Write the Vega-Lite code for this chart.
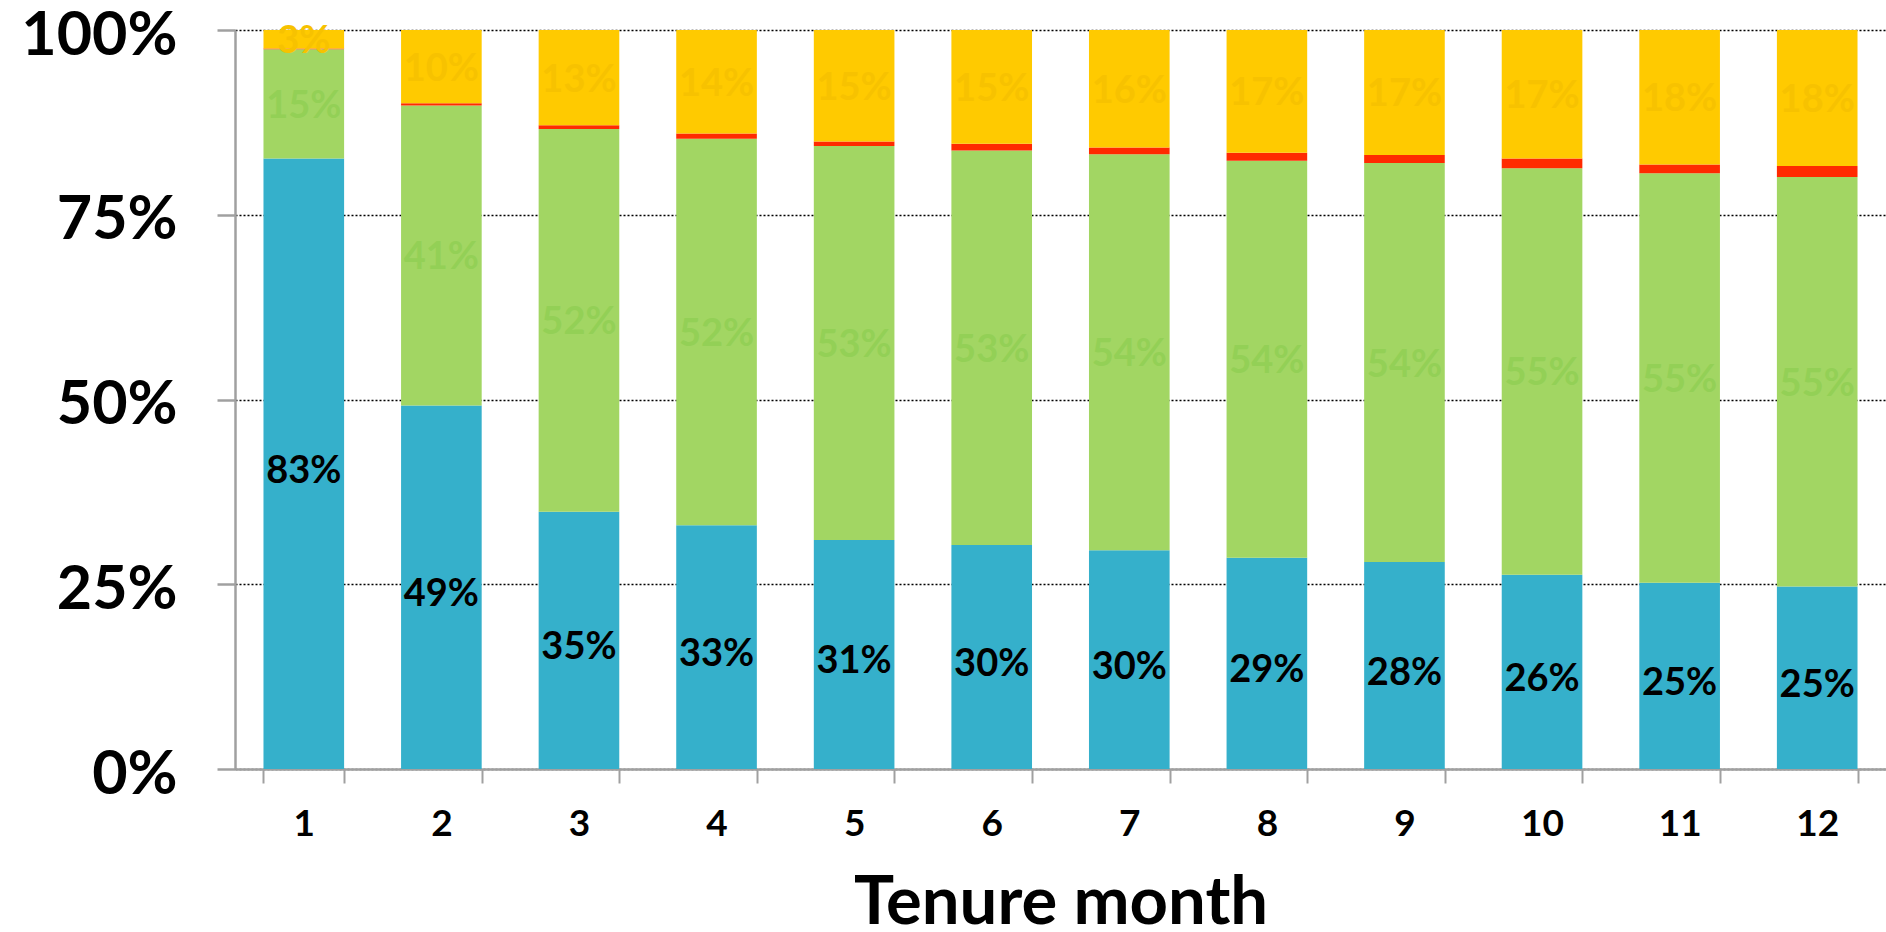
{
  "$schema": "https://vega.github.io/schema/vega-lite/v6.json",
  "autosize": "none",
  "width": 1651,
  "height": 739,
  "padding": {"left": 235, "top": 30, "right": 0, "bottom": 163},
  "background": "white",
  "config": {
    "view": {"stroke": null},
    "font": "Lato"
  },
  "data": {
    "values": [
      {"month": 1, "segment": "A", "order": 1, "share": 0.826},
      {"month": 1, "segment": "B", "order": 2, "share": 0.148},
      {"month": 1, "segment": "C", "order": 3, "share": 0.001},
      {"month": 1, "segment": "D", "order": 4, "share": 0.025},
      {"month": 2, "segment": "A", "order": 1, "share": 0.492},
      {"month": 2, "segment": "B", "order": 2, "share": 0.406},
      {"month": 2, "segment": "C", "order": 3, "share": 0.003},
      {"month": 2, "segment": "D", "order": 4, "share": 0.099},
      {"month": 3, "segment": "A", "order": 1, "share": 0.348},
      {"month": 3, "segment": "B", "order": 2, "share": 0.518},
      {"month": 3, "segment": "C", "order": 3, "share": 0.005},
      {"month": 3, "segment": "D", "order": 4, "share": 0.129},
      {"month": 4, "segment": "A", "order": 1, "share": 0.330},
      {"month": 4, "segment": "B", "order": 2, "share": 0.523},
      {"month": 4, "segment": "C", "order": 3, "share": 0.007},
      {"month": 4, "segment": "D", "order": 4, "share": 0.140},
      {"month": 5, "segment": "A", "order": 1, "share": 0.310},
      {"month": 5, "segment": "B", "order": 2, "share": 0.533},
      {"month": 5, "segment": "C", "order": 3, "share": 0.006},
      {"month": 5, "segment": "D", "order": 4, "share": 0.151},
      {"month": 6, "segment": "A", "order": 1, "share": 0.303},
      {"month": 6, "segment": "B", "order": 2, "share": 0.534},
      {"month": 6, "segment": "C", "order": 3, "share": 0.009},
      {"month": 6, "segment": "D", "order": 4, "share": 0.154},
      {"month": 7, "segment": "A", "order": 1, "share": 0.296},
      {"month": 7, "segment": "B", "order": 2, "share": 0.536},
      {"month": 7, "segment": "C", "order": 3, "share": 0.009},
      {"month": 7, "segment": "D", "order": 4, "share": 0.159},
      {"month": 8, "segment": "A", "order": 1, "share": 0.286},
      {"month": 8, "segment": "B", "order": 2, "share": 0.537},
      {"month": 8, "segment": "C", "order": 3, "share": 0.011},
      {"month": 8, "segment": "D", "order": 4, "share": 0.166},
      {"month": 9, "segment": "A", "order": 1, "share": 0.280},
      {"month": 9, "segment": "B", "order": 2, "share": 0.540},
      {"month": 9, "segment": "C", "order": 3, "share": 0.011},
      {"month": 9, "segment": "D", "order": 4, "share": 0.169},
      {"month": 10, "segment": "A", "order": 1, "share": 0.263},
      {"month": 10, "segment": "B", "order": 2, "share": 0.550},
      {"month": 10, "segment": "C", "order": 3, "share": 0.013},
      {"month": 10, "segment": "D", "order": 4, "share": 0.174},
      {"month": 11, "segment": "A", "order": 1, "share": 0.252},
      {"month": 11, "segment": "B", "order": 2, "share": 0.554},
      {"month": 11, "segment": "C", "order": 3, "share": 0.012},
      {"month": 11, "segment": "D", "order": 4, "share": 0.182},
      {"month": 12, "segment": "A", "order": 1, "share": 0.247},
      {"month": 12, "segment": "B", "order": 2, "share": 0.554},
      {"month": 12, "segment": "C", "order": 3, "share": 0.015},
      {"month": 12, "segment": "D", "order": 4, "share": 0.184}
    ]
  },
  "transform": [
    {"stack": "share", "groupby": ["month"], "sort": [{"field": "order", "order": "ascending"}], "as": ["y0", "y1"]},
    {"calculate": "(datum.y0 + datum.y1) / 2", "as": "ymid"}
  ],
  "encoding": {
    "x": {
      "field": "month",
      "type": "ordinal",
      "scale": {"paddingInner": 0.414, "paddingOuter": 0.207},
      "axis": {
        "title": "Tenure month",
        "titleFont": "Lato",
        "titleFontSize": 67,
        "titleFontWeight": "bold",
        "titleColor": "black",
        "titlePadding": 28,
        "labelAngle": 0,
        "labelFont": "Lato",
        "labelFontSize": 37,
        "labelFontWeight": "bold",
        "labelColor": "black",
        "labelPadding": 23,
        "tickBand": "extent",
        "tickSize": 14,
        "tickWidth": 2,
        "tickColor": "#a0a0a0",
        "domainColor": "#a0a0a0",
        "domainWidth": 2.5,
        "grid": false
      }
    }
  },
  "layer": [
    {
      "mark": {"type": "bar", "stroke": null},
      "encoding": {
        "y": {
          "field": "y0",
          "type": "quantitative",
          "scale": {"domain": [0, 1], "nice": false},
          "axis": {
            "title": null,
            "format": ".0%",
            "values": [0, 0.25, 0.5, 0.75, 1],
            "labelFont": "Lato",
            "labelFontSize": 61,
            "labelFontWeight": "bold",
            "labelColor": "black",
            "labelPadding": 40,
            "labelOffset": 6,
            "tickSize": 18,
            "tickWidth": 2.5,
            "tickColor": "#a0a0a0",
            "domainColor": "#a0a0a0",
            "domainWidth": 2.5,
            "grid": true,
            "gridColor": "black",
            "gridDash": [2, 2],
            "gridWidth": 1.6
          }
        },
        "y2": {"field": "y1"},
        "color": {
          "field": "segment",
          "type": "nominal",
          "scale": {"domain": ["A", "B", "C", "D"], "range": ["#35b0cb", "#a2d663", "#ff2a00", "#ffca00"]},
          "legend": null
        }
      }
    },
    {
      "transform": [{"filter": "datum.segment === 'A'"}],
      "mark": {"type": "text", "font": "Lato", "fontWeight": "bold", "fontSize": 38, "baseline": "middle", "align": "center", "dy": 8, "color": "#000000"},
      "encoding": {
        "y": {"field": "ymid", "type": "quantitative"},
        "text": {"field": "share", "type": "quantitative", "format": ".0%"}
      }
    },
    {
      "transform": [{"filter": "datum.segment === 'B' || datum.segment === 'D'"}],
      "mark": {"type": "text", "font": "Lato", "fontWeight": "bold", "fontSize": 38, "baseline": "middle", "align": "center", "dy": 3},
      "encoding": {
        "y": {"field": "ymid", "type": "quantitative"},
        "text": {"field": "share", "type": "quantitative", "format": ".0%"},
        "color": {
          "field": "segment",
          "type": "nominal",
          "scale": {"domain": ["B", "D"], "range": ["#93d056", "#f7c200"]},
          "legend": null
        }
      }
    }
  ],
  "resolve": {"scale": {"color": "independent"}}
}
